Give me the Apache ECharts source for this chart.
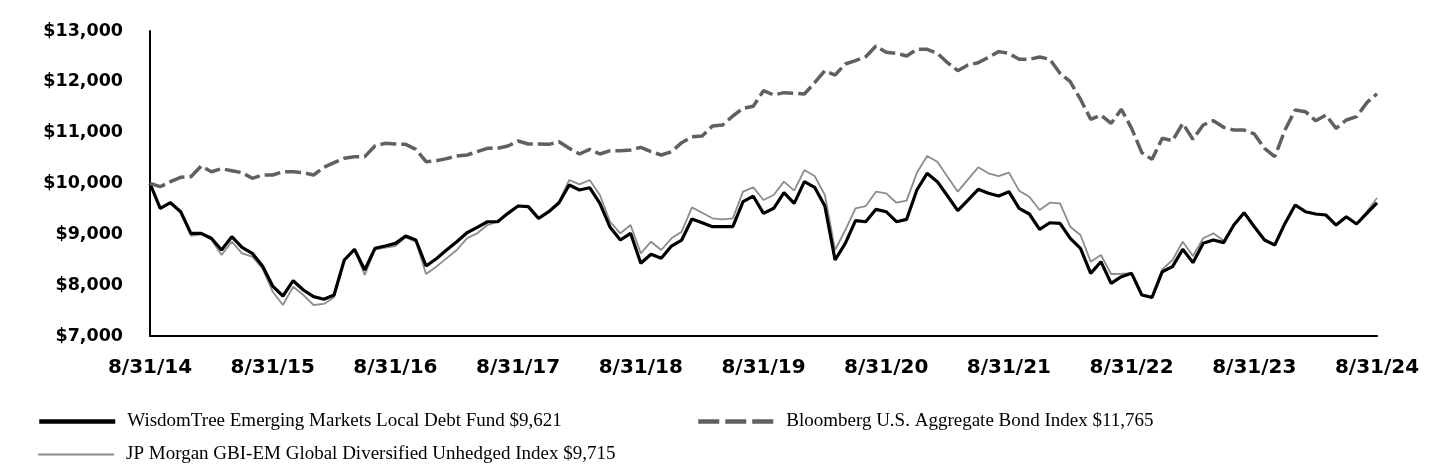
<!DOCTYPE html>
<html>
<head>
<meta charset="utf-8">
<script src="https://cdn.jsdelivr.net/npm/echarts@6/dist/echarts.min.js"></script>
<style>
  html, body { margin: 0; padding: 0; background: #fff; }
  #chart { width: 1440px; height: 468px; }
</style>
</head>
<body>
<div id="chart"></div>
<script>
// month-end dates 8/31/14 .. 8/31/24
var months = [];
for (var y = 2014; y <= 2024; y++) {
    for (var m = 1; m <= 12; m++) {
        if ((y === 2014 && m < 8) || (y === 2024 && m > 8)) continue;
        months.push(m + '/' + y);
    }
}
// tick labels every 12 months
var tickLabels = ['8/31/14', '8/31/15', '8/31/16', '8/31/17', '8/31/18', '8/31/19',
    '8/31/20', '8/31/21', '8/31/22', '8/31/23', '8/31/24'];

var fundName = 'WisdomTree Emerging Markets Local Debt Fund $9,621';
var aggName = 'Bloomberg U.S. Aggregate Bond Index $11,765';
var jpmName = 'JP Morgan GBI-EM Global Diversified Unhedged Index $9,715';

var fundValues = [
    10000, 9512, 9622, 9445, 9020, 9020, 8922, 8692, 8954, 8744, 8626, 8377,
    7983, 7787, 8088, 7905, 7774, 7722, 7806, 8495, 8705, 8298, 8725, 8770,
    8823, 8967, 8888, 8377, 8521, 8690, 8855, 9032, 9137, 9248, 9248, 9413,
    9557, 9544, 9315, 9445, 9622, 9970, 9872, 9917, 9610, 9137, 8888, 9020,
    8430, 8607, 8528, 8770, 8888, 9301, 9228, 9150, 9150, 9150, 9642, 9750,
    9413, 9512, 9820, 9610, 10036, 9925, 9557, 8495, 8823, 9268, 9248, 9492,
    9445, 9248, 9295, 9872, 10200, 10036, 9754, 9465, 9675, 9885, 9807, 9754,
    9839, 9512, 9400, 9098, 9228, 9215, 8922, 8725, 8233, 8462, 8036, 8167,
    8233, 7806, 7760, 8265, 8364, 8705, 8443, 8823, 8888, 8836, 9183, 9426,
    9150, 8888, 8790, 9215, 9577, 9445, 9400, 9380, 9183, 9347, 9203, 9413,
    9621
];

var aggValues = [
    10000, 9937, 10036, 10121, 10134, 10344, 10232, 10291, 10252, 10213, 10102, 10167,
    10167, 10232, 10232, 10213, 10167, 10318, 10410, 10495, 10528, 10528, 10738, 10790,
    10777, 10770, 10672, 10429, 10449, 10490, 10541, 10560, 10626, 10692, 10692, 10738,
    10836, 10777, 10777, 10770, 10823, 10692, 10580, 10672, 10580, 10646, 10646, 10659,
    10711, 10626, 10560, 10626, 10803, 10921, 10934, 11131, 11151, 11328, 11479, 11520,
    11826, 11741, 11787, 11774, 11761, 11983, 12219, 12134, 12351, 12416, 12495, 12705,
    12581, 12561, 12508, 12640, 12640, 12561, 12377, 12219, 12331, 12377, 12482, 12594,
    12561, 12443, 12443, 12490, 12443, 12167, 12003, 11656, 11263, 11347, 11184, 11459,
    11085, 10606, 10475, 10889, 10842, 11184, 10869, 11151, 11236, 11105, 11052, 11052,
    10974, 10692, 10528, 11052, 11446, 11413, 11236, 11347, 11085, 11249, 11314, 11590,
    11765
];

var jpmValues = [
    10000, 9500, 9622, 9445, 8970, 9000, 8900, 8593, 8855, 8626, 8560, 8330,
    7872, 7610, 7970, 7806, 7610, 7630, 7760, 8480, 8700, 8200, 8700, 8740,
    8770, 8940, 8855, 8220, 8364, 8528, 8692, 8922, 9020, 9183, 9248, 9400,
    9570, 9544, 9315, 9445, 9640, 10069, 9984, 10069, 9774, 9248, 9020, 9183,
    8626, 8855, 8692, 8922, 9052, 9531, 9426, 9315, 9295, 9315, 9839, 9925,
    9675, 9774, 10036, 9859, 10265, 10147, 9774, 8692, 9085, 9512, 9557, 9839,
    9807, 9622, 9662, 10213, 10541, 10429, 10134, 9839, 10082, 10318, 10200, 10147,
    10213, 9859, 9740, 9478, 9622, 9610, 9150, 8987, 8462, 8593, 8220, 8225,
    8233, 7806, 7760, 8311, 8495, 8855, 8573, 8922, 9020, 8875, 9183, 9426,
    9150, 8888, 8790, 9215, 9577, 9445, 9400, 9380, 9183, 9347, 9203, 9450,
    9715
];

var chart = echarts.init(document.getElementById('chart'));

var legendText = { fontFamily: 'Liberation Serif', fontSize: 19, color: '#000', padding: [0, 0, 0, 7] };
var axisFont = { fontFamily: 'DejaVu Sans', fontWeight: 'bold', color: '#000' };
// hide the marker dot in legend icons, keep only the line
var legendBase = { icon: 'inherit', itemWidth: 76, itemHeight: 12, itemStyle: { opacity: 0 }, textStyle: legendText };

chart.setOption({
    animation: false,
    grid: { left: 150, right: 63, top: 31, height: 305, containLabel: false },
    legend: [
        Object.assign({ data: [fundName], left: 32, top: 407, lineStyle: { width: 4.5 } }, legendBase),
        Object.assign({ data: [aggName], left: 691, top: 407, lineStyle: { width: 4.5, type: [21, 6] } }, legendBase),
        Object.assign({ data: [jpmName], left: 32, top: 440, lineStyle: { width: 2.2 } }, legendBase)
    ],
    xAxis: {
        type: 'category',
        data: months,
        boundaryGap: false,
        axisLine: { lineStyle: { color: '#000', width: 2 } },
        axisTick: { show: false },
        axisLabel: Object.assign({
            interval: function (idx) { return idx % 12 === 0; },
            formatter: function (val, idx) { return tickLabels[idx / 12]; },
            margin: 22,
            fontSize: 20
        }, axisFont)
    },
    yAxis: {
        type: 'value',
        min: 7000,
        max: 13000,
        interval: 1000,
        splitLine: { show: false },
        axisLine: { show: true, lineStyle: { color: '#000', width: 2 } },
        axisTick: { show: false },
        axisLabel: Object.assign({
            margin: 27,
            fontSize: 17.5,
            formatter: function (v) { return '$' + v.toLocaleString('en-US'); }
        }, axisFont)
    },
    series: [
        {
            name: jpmName, type: 'line', data: jpmValues, symbol: 'none',
            lineStyle: { color: '#8c8c8c', width: 1.8 }, itemStyle: { color: '#8c8c8c' }
        },
        {
            name: fundName, type: 'line', data: fundValues, symbol: 'none',
            lineStyle: { color: '#000', width: 3.2 }, itemStyle: { color: '#000' }
        },
        {
            name: aggName, type: 'line', data: aggValues, symbol: 'none',
            lineStyle: { color: '#606060', width: 3.5, type: [16, 5] }, itemStyle: { color: '#606060' }
        }
    ]
});
</script>
</body>
</html>
